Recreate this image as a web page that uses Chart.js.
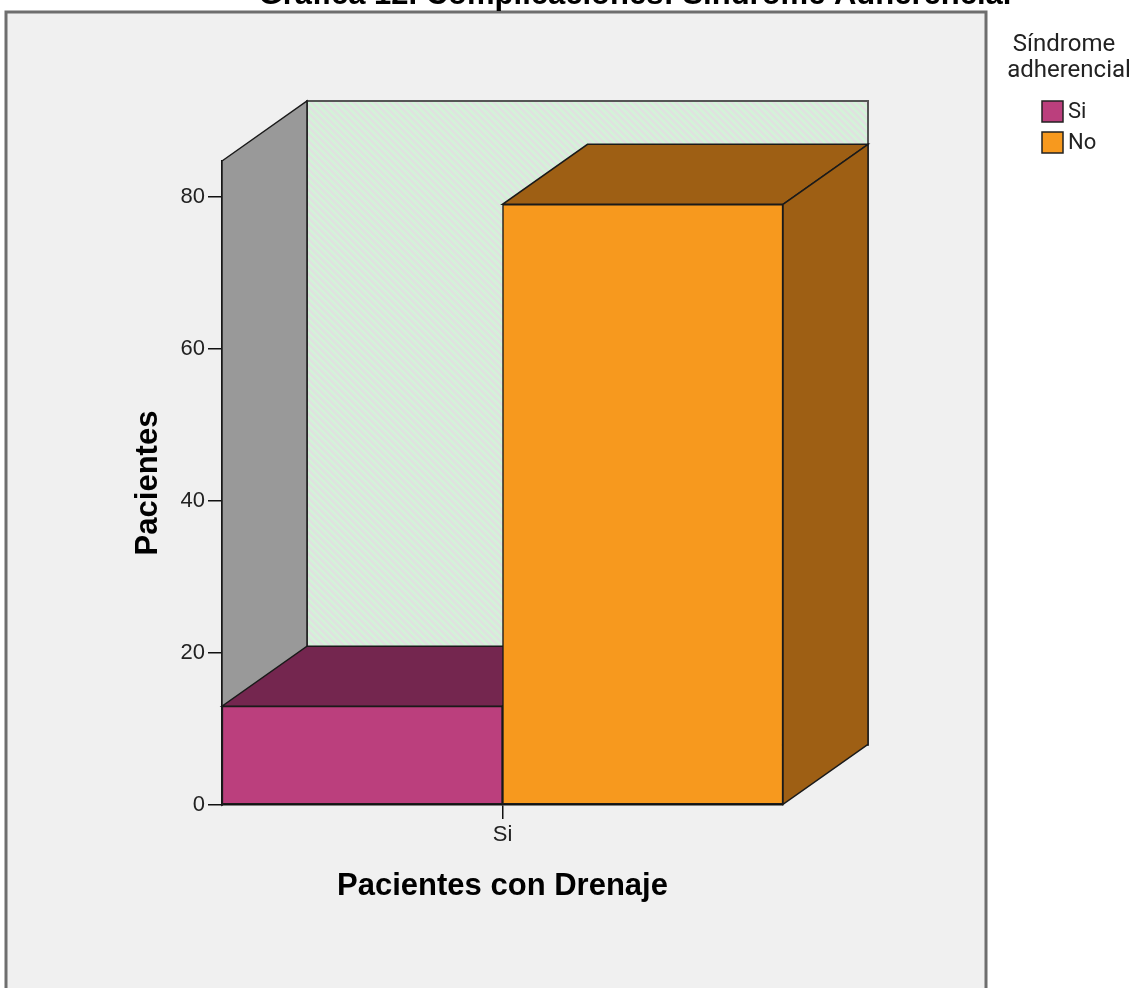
<!DOCTYPE html>
<html>
<head>
<meta charset="utf-8">
<script src="https://cdn.jsdelivr.net/npm/chart.js@4.4.1/dist/chart.umd.min.js"></script>
<style>
  html, body { margin: 0; padding: 0; background: #fff; }
  #wrap { width: 1143px; height: 988px; }
</style>
</head>
<body>
<div id="wrap"><canvas id="chart" width="1143" height="988"></canvas></div>
<script>
// data
const categories = ['Si'];
const seriesNames = ['Si', 'No'];
const siCounts = [13];
const noCounts = [79];
const yTickValues = [0, 20, 40, 60, 80];
const yTop = 84.7;

const frontColors = ['#bb3f7d', '#f7991e'];
const shadeColors = ['#74264f', '#9e5f14'];
const depth = { dx: 85, dy: -60 };

function poly(ctx, pts, fill) {
  ctx.beginPath();
  ctx.moveTo(pts[0][0], pts[0][1]);
  for (let i = 1; i < pts.length; i++) ctx.lineTo(pts[i][0], pts[i][1]);
  ctx.closePath();
  ctx.fillStyle = fill;
  ctx.fill();
  ctx.lineWidth = 1.5;
  ctx.strokeStyle = '#1a1a1a';
  ctx.stroke();
}

const box3d = {
  id: 'box3d',
  beforeDraw(chart) {
    const ctx = chart.ctx;
    ctx.save();
    ctx.fillStyle = '#fff';
    ctx.fillRect(0, 0, chart.width, chart.height);
    ctx.fillStyle = '#f0f0f0';
    ctx.fillRect(6, 12, 980, 1000);
    ctx.lineWidth = 3;
    ctx.strokeStyle = '#6e6e6e';
    ctx.strokeRect(6, 12, 980, 1000);

    // title, mostly cut off by the top edge
    ctx.fillStyle = '#000';
    ctx.font = 'bold 31px "Liberation Sans"';
    ctx.textAlign = 'center';
    ctx.textBaseline = 'alphabetic';
    ctx.fillText('Gráfica 12. Complicaciones: Síndrome Adherencial', 635, 4);
    ctx.restore();
  },
  beforeDatasetsDraw(chart) {
    const ctx = chart.ctx;
    const { left, right, top, bottom } = chart.chartArea;
    const { dx, dy } = depth;
    ctx.save();

    // back wall with diagonal hatching
    const bx0 = left + dx, by0 = top + dy, bx1 = right + dx, by1 = bottom + dy;
    ctx.save();
    ctx.beginPath();
    ctx.rect(bx0, by0, bx1 - bx0, by1 - by0);
    ctx.clip();
    ctx.fillStyle = '#e0e1e0';
    ctx.fillRect(bx0, by0, bx1 - bx0, by1 - by0);
    ctx.strokeStyle = '#d3f3d8';
    ctx.lineWidth = 2.5;
    for (let s = -(by1 - by0); s < bx1 - bx0; s += 7) {
      ctx.beginPath();
      ctx.moveTo(bx0 + s, by0);
      ctx.lineTo(bx0 + s + (by1 - by0), by1);
      ctx.stroke();
    }
    ctx.restore();
    ctx.lineWidth = 2;
    ctx.strokeStyle = '#555';
    ctx.strokeRect(bx0, by0, bx1 - bx0, by1 - by0);

    // left wall
    poly(ctx, [[left, top], [bx0, by0], [bx0, by1], [left, bottom]], '#999999');

    // top and side faces of each bar
    chart.data.datasets.forEach((ds, di) => {
      const meta = chart.getDatasetMeta(di);
      meta.data.forEach(bar => {
        const x0 = bar.x - bar.width / 2, x1 = bar.x + bar.width / 2;
        poly(ctx, [[x0, bar.y], [x1, bar.y], [x1 + dx, bar.y + dy], [x0 + dx, bar.y + dy]], shadeColors[di]);
        poly(ctx, [[x1, bar.y], [x1 + dx, bar.y + dy], [x1 + dx, bar.base + dy], [x1, bar.base]], shadeColors[di]);
      });
    });
    ctx.restore();
  },
  afterDraw(chart) {
    const ctx = chart.ctx;
    const { left, right, top, bottom } = chart.chartArea;
    ctx.save();
    ctx.fillStyle = '#000';
    ctx.textAlign = 'center';
    ctx.textBaseline = 'middle';
    ctx.font = 'bold 31px "Liberation Sans"';
    ctx.fillText('Pacientes con Drenaje', (left + right) / 2, 886);
    ctx.save();
    ctx.translate(148, (top + bottom) / 2);
    ctx.rotate(-Math.PI / 2);
    ctx.fillText('Pacientes', 0, 0);
    ctx.restore();

    // legend
    ctx.fillStyle = '#222';
    ctx.font = '24px Roboto';
    ctx.fillText('Síndrome', 1064, 45);
    ctx.fillText('adherencial', 1069, 71);
    ctx.textAlign = 'left';
    ctx.font = '22px Roboto';
    seriesNames.forEach((name, i) => {
      const y = 101 + i * 31;
      ctx.fillStyle = frontColors[i];
      ctx.fillRect(1042, y, 21, 21);
      ctx.lineWidth = 1.5;
      ctx.strokeStyle = '#222';
      ctx.strokeRect(1042, y, 21, 21);
      ctx.fillStyle = '#222';
      ctx.fillText(name, 1068, y + 11);
    });
    ctx.restore();
  }
};

Chart.defaults.font.family = '"Liberation Sans", Arial, sans-serif';
Chart.defaults.color = '#222';

new Chart(document.getElementById('chart'), {
  type: 'bar',
  data: {
    labels: categories,
    datasets: [
      { label: seriesNames[0], data: siCounts, backgroundColor: frontColors[0] },
      { label: seriesNames[1], data: noCounts, backgroundColor: frontColors[1] }
    ]
  },
  options: {
    responsive: false,
    animation: false,
    events: [],
    layout: { padding: { left: 162, right: 360, top: 161, bottom: 143 } },
    datasets: {
      bar: { borderColor: '#1a1a1a', borderWidth: 1.5, barPercentage: 1, categoryPercentage: 1, borderSkipped: false }
    },
    plugins: { legend: { display: false }, title: { display: false }, tooltip: { enabled: false } },
    scales: {
      x: {
        offset: true,
        grid: { offset: false, drawOnChartArea: false, drawTicks: true, tickLength: 14, color: '#111', lineWidth: 1.5 },
        border: { display: true, color: '#111', width: 1.5 },
        ticks: { font: { size: 22 }, padding: 3, color: '#222' },
        afterFit(scale) { scale.height = 40; }
      },
      y: {
        min: 0,
        max: yTop,
        grid: { drawOnChartArea: false, drawTicks: true, tickLength: 14, color: '#111', lineWidth: 1.5 },
        border: { display: true, color: '#111', width: 2 },
        ticks: { font: { size: 22 }, padding: 3, color: '#222' },
        afterBuildTicks(scale) { scale.ticks = yTickValues.map(v => ({ value: v })); },
        afterFit(scale) { scale.width = 60; }
      }
    }
  },
  plugins: [box3d]
});
</script>
</body>
</html>
